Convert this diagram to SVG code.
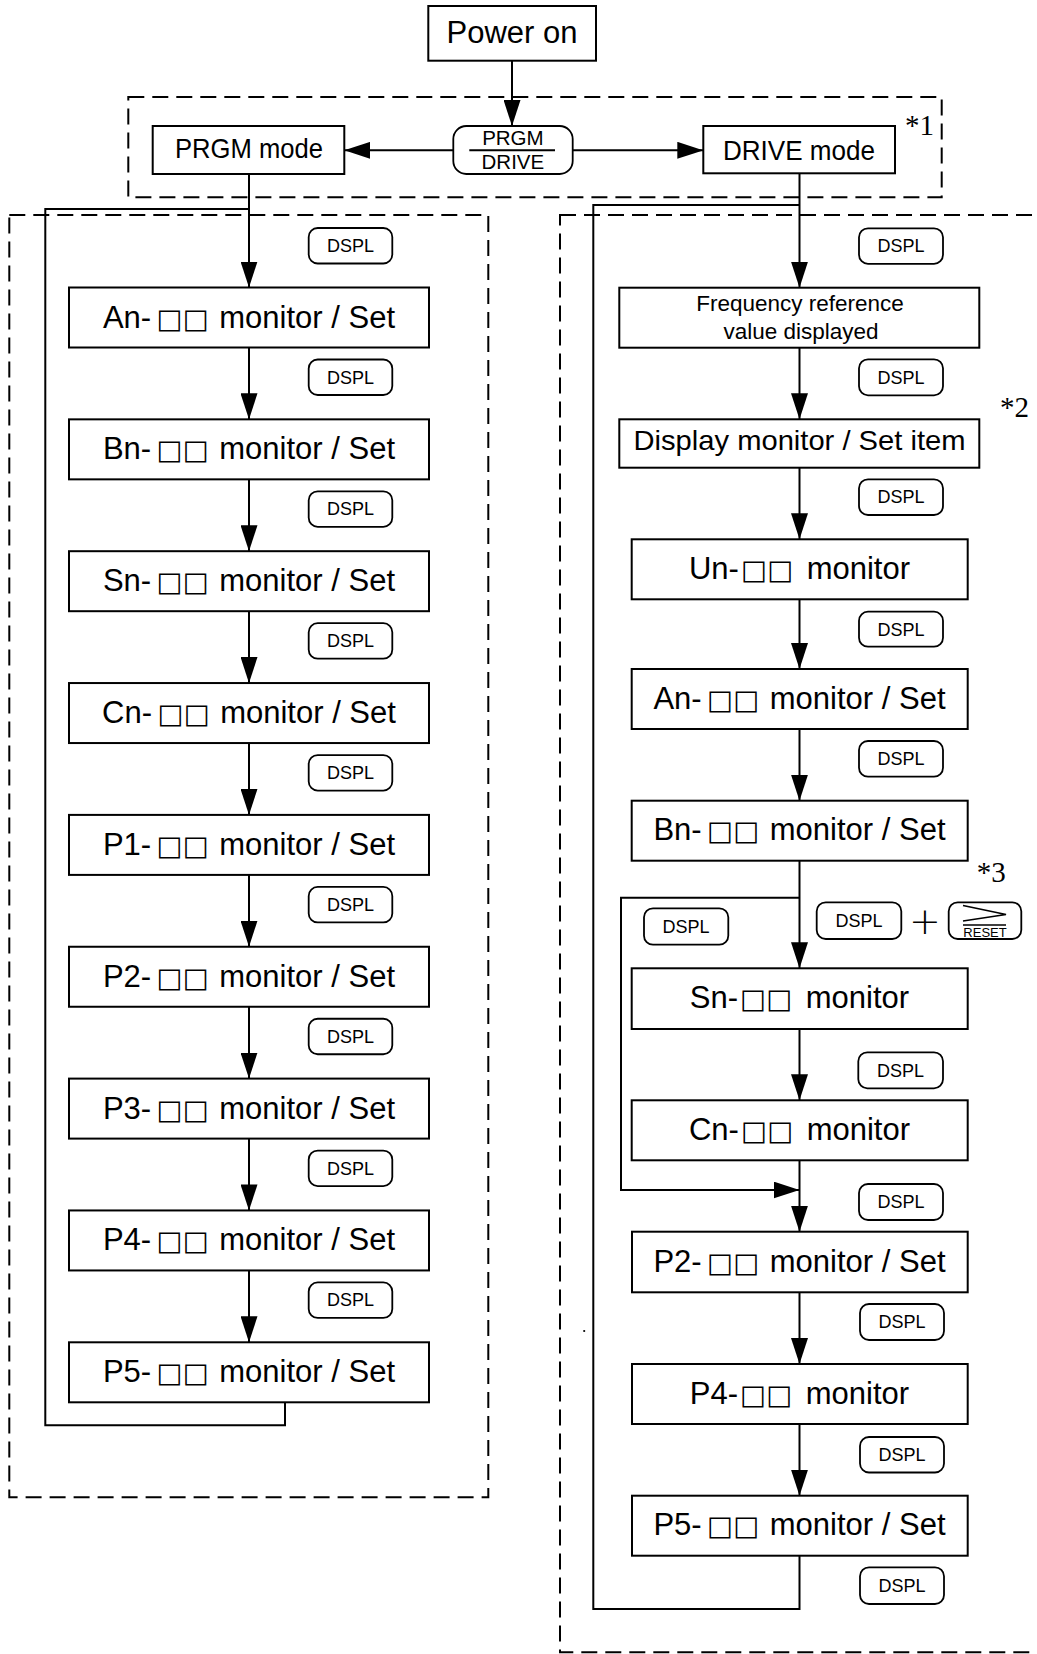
<svg xmlns="http://www.w3.org/2000/svg" width="1037" height="1654" viewBox="0 0 1037 1654">
<defs>
<style>
.box{fill:#fff;stroke:#000;stroke-width:2}
.btn{fill:#fff;stroke:#000;stroke-width:1.8}
.dash{fill:none;stroke:#000;stroke-width:2;stroke-dasharray:16 8}
.ln{fill:none;stroke:#000;stroke-width:2}
.t{font-family:"Liberation Sans",Arial,sans-serif;fill:#000;text-anchor:middle}
.lbl{font-size:31px}
.sq{font-family:"DejaVu Sans",sans-serif;font-size:27.3px}
.k{font-size:18px}
.note{font-family:"Liberation Serif","Times New Roman",serif;font-size:29px;fill:#000}
</style>
<marker id="arr" viewBox="0 0 26 17" refX="26" refY="8.5" markerWidth="26" markerHeight="17" markerUnits="userSpaceOnUse" orient="auto">
<path d="M0,0 L26,8.5 L0,17 z" fill="#000"/>
</marker>
</defs>
<rect width="1037" height="1654" fill="#fff"/>

<g id="frames">
<rect class="dash" x="128.3" y="97" width="813.4" height="100.3"/>
<rect class="dash" x="9.3" y="215" width="479" height="1282.3"/>
<rect class="dash" x="560" y="215" width="500" height="1437.3"/>
</g>

<g id="connectors">
<path class="ln" d="M512,60.7 V126" marker-end="url(#arr)"/>
<path class="ln" d="M453.3,150.3 H344.3" marker-end="url(#arr)"/>
<path class="ln" d="M572.7,150.3 H703.3" marker-end="url(#arr)"/>
<path class="ln" d="M249,174 V287.5" marker-end="url(#arr)"/>
<path class="ln" d="M249,347.5 V419.35" marker-end="url(#arr)"/>
<path class="ln" d="M249,479.35 V551.2" marker-end="url(#arr)"/>
<path class="ln" d="M249,611.2 V683.05" marker-end="url(#arr)"/>
<path class="ln" d="M249,743.05 V814.9" marker-end="url(#arr)"/>
<path class="ln" d="M249,874.9 V946.75" marker-end="url(#arr)"/>
<path class="ln" d="M249,1006.75 V1078.6" marker-end="url(#arr)"/>
<path class="ln" d="M249,1138.6 V1210.45" marker-end="url(#arr)"/>
<path class="ln" d="M249,1270.45 V1342.3" marker-end="url(#arr)"/>
<path class="ln" d="M285,1402.3 V1425.3 H45.3 V209 H249"/>
<path class="ln" d="M799.5,173.3 V287.7" marker-end="url(#arr)"/>
<path class="ln" d="M799.5,347.7 V419.3" marker-end="url(#arr)"/>
<path class="ln" d="M799.5,467.7 V539.3" marker-end="url(#arr)"/>
<path class="ln" d="M799.5,599.3 V669" marker-end="url(#arr)"/>
<path class="ln" d="M799.5,729 V800.7" marker-end="url(#arr)"/>
<path class="ln" d="M799.5,860.7 V968.3" marker-end="url(#arr)"/>
<path class="ln" d="M799.5,1029 V1100.3" marker-end="url(#arr)"/>
<path class="ln" d="M799.5,1160.3 V1231.7" marker-end="url(#arr)"/>
<path class="ln" d="M799.5,1292.3 V1364" marker-end="url(#arr)"/>
<path class="ln" d="M799.5,1424 V1495.7" marker-end="url(#arr)"/>
<path class="ln" d="M799.5,897.7 H621 V1190 H799.5" marker-end="url(#arr)"/>
<path class="ln" d="M799.5,1555.7 V1609 H593.3 V205 H799.5"/>
</g>

<g id="power-on">
<rect class="box" x="428.3" y="6" width="167.7" height="54.7"/>
<text class="t" x="512" y="42.7" font-size="31">Power on</text>
</g>

<g id="prgm-drive-key">
<rect class="btn" x="453.3" y="126" width="119.4" height="48" rx="13"/>
<text class="t" x="512.9" y="145" font-size="20.5">PRGM</text>
<line class="ln" x1="469.3" y1="150.3" x2="555" y2="150.3"/>
<text class="t" x="512.9" y="169" font-size="20.5">DRIVE</text>
</g>

<g id="prgm-mode">
<rect class="box" x="152.7" y="126" width="191.6" height="48"/>
<text class="t" x="249" y="158.3" font-size="28" textLength="148" lengthAdjust="spacingAndGlyphs">PRGM mode</text>
</g>

<g id="drive-mode">
<rect class="box" x="703.3" y="126" width="191.7" height="47.3"/>
<text class="t" x="799" y="160" font-size="28" textLength="152" lengthAdjust="spacingAndGlyphs">DRIVE mode</text>
</g>

<g id="notes">
<text class="note" x="905" y="135">*1</text>
<text class="note" x="1000" y="416.7">*2</text>
<text class="note" x="976.7" y="881.7">*3</text>
</g>

<g id="L-An"><rect class="box" x="69" y="287.5" width="360" height="60"/><text class="t lbl" x="249" y="327.5">An-<tspan class="sq" dx="5.4 0.4">□□</tspan><tspan dx="2.1"> monitor / Set</tspan></text></g>
<g id="L-Bn"><rect class="box" x="69" y="419.35" width="360" height="60"/><text class="t lbl" x="249" y="459.35">Bn-<tspan class="sq" dx="5.4 0.4">□□</tspan><tspan dx="2.1"> monitor / Set</tspan></text></g>
<g id="L-Sn"><rect class="box" x="69" y="551.2" width="360" height="60"/><text class="t lbl" x="249" y="591.2">Sn-<tspan class="sq" dx="5.4 0.4">□□</tspan><tspan dx="2.1"> monitor / Set</tspan></text></g>
<g id="L-Cn"><rect class="box" x="69" y="683.05" width="360" height="60"/><text class="t lbl" x="249" y="723.05">Cn-<tspan class="sq" dx="5.4 0.4">□□</tspan><tspan dx="2.1"> monitor / Set</tspan></text></g>
<g id="L-P1"><rect class="box" x="69" y="814.9" width="360" height="60"/><text class="t lbl" x="249" y="854.9">P1-<tspan class="sq" dx="5.4 0.4">□□</tspan><tspan dx="2.1"> monitor / Set</tspan></text></g>
<g id="L-P2"><rect class="box" x="69" y="946.75" width="360" height="60"/><text class="t lbl" x="249" y="986.75">P2-<tspan class="sq" dx="5.4 0.4">□□</tspan><tspan dx="2.1"> monitor / Set</tspan></text></g>
<g id="L-P3"><rect class="box" x="69" y="1078.6" width="360" height="60"/><text class="t lbl" x="249" y="1118.6">P3-<tspan class="sq" dx="5.4 0.4">□□</tspan><tspan dx="2.1"> monitor / Set</tspan></text></g>
<g id="L-P4"><rect class="box" x="69" y="1210.45" width="360" height="60"/><text class="t lbl" x="249" y="1250.45">P4-<tspan class="sq" dx="5.4 0.4">□□</tspan><tspan dx="2.1"> monitor / Set</tspan></text></g>
<g id="L-P5"><rect class="box" x="69" y="1342.3" width="360" height="60"/><text class="t lbl" x="249" y="1382.3">P5-<tspan class="sq" dx="5.4 0.4">□□</tspan><tspan dx="2.1"> monitor / Set</tspan></text></g>

<g id="L-keys">
<g><rect class="btn" x="308.7" y="228" width="83.6" height="35.5" rx="9"/><text class="t k" x="350.5" y="252">DSPL</text></g>
<g><rect class="btn" x="308.7" y="359.5" width="83.6" height="35.5" rx="9"/><text class="t k" x="350.5" y="383.5">DSPL</text></g>
<g><rect class="btn" x="308.7" y="491.35" width="83.6" height="35.5" rx="9"/><text class="t k" x="350.5" y="515.35">DSPL</text></g>
<g><rect class="btn" x="308.7" y="623.2" width="83.6" height="35.5" rx="9"/><text class="t k" x="350.5" y="647.2">DSPL</text></g>
<g><rect class="btn" x="308.7" y="755.05" width="83.6" height="35.5" rx="9"/><text class="t k" x="350.5" y="779.05">DSPL</text></g>
<g><rect class="btn" x="308.7" y="886.9" width="83.6" height="35.5" rx="9"/><text class="t k" x="350.5" y="910.9">DSPL</text></g>
<g><rect class="btn" x="308.7" y="1018.75" width="83.6" height="35.5" rx="9"/><text class="t k" x="350.5" y="1042.75">DSPL</text></g>
<g><rect class="btn" x="308.7" y="1150.6" width="83.6" height="35.5" rx="9"/><text class="t k" x="350.5" y="1174.6">DSPL</text></g>
<g><rect class="btn" x="308.7" y="1282.45" width="83.6" height="35.5" rx="9"/><text class="t k" x="350.5" y="1306.45">DSPL</text></g>
</g>

<g id="R-Freq"><rect class="box" x="619.3" y="287.7" width="360" height="60"/><text class="t" x="800" y="311" font-size="22.5">Frequency reference</text><text class="t" x="801" y="339" font-size="22.5">value displayed</text></g>
<g id="R-Display"><rect class="box" x="619.3" y="419.3" width="360" height="48.4"/><text class="t" x="799.5" y="450" font-size="28" textLength="332" lengthAdjust="spacingAndGlyphs">Display monitor / Set item</text></g>
<g id="R-Un"><rect class="box" x="631.7" y="539.3" width="336" height="60"/><text class="t lbl" x="799.5" y="578.8">Un-<tspan class="sq" dx="2 0.4">□□</tspan><tspan dx="5.1"> monitor</tspan></text></g>
<g id="R-An"><rect class="box" x="631.7" y="669" width="336" height="60"/><text class="t lbl" x="799.5" y="708.5">An-<tspan class="sq" dx="5.4 0.4">□□</tspan><tspan dx="2.1"> monitor / Set</tspan></text></g>
<g id="R-Bn"><rect class="box" x="631.7" y="800.7" width="336" height="60"/><text class="t lbl" x="799.5" y="840.2">Bn-<tspan class="sq" dx="5.4 0.4">□□</tspan><tspan dx="2.1"> monitor / Set</tspan></text></g>
<g id="R-Sn"><rect class="box" x="631.7" y="968.3" width="336" height="60.7"/><text class="t lbl" x="799.5" y="1008">Sn-<tspan class="sq" dx="2 0.4">□□</tspan><tspan dx="5.1"> monitor</tspan></text></g>
<g id="R-Cn"><rect class="box" x="631.7" y="1100.3" width="336" height="60"/><text class="t lbl" x="799.5" y="1139.8">Cn-<tspan class="sq" dx="2 0.4">□□</tspan><tspan dx="5.1"> monitor</tspan></text></g>
<g id="R-P2"><rect class="box" x="632" y="1231.7" width="335.7" height="60.6"/><text class="t lbl" x="799.5" y="1271.5">P2-<tspan class="sq" dx="5.4 0.4">□□</tspan><tspan dx="2.1"> monitor / Set</tspan></text></g>
<g id="R-P4"><rect class="box" x="632" y="1364" width="335.7" height="60"/><text class="t lbl" x="799.5" y="1403.5">P4-<tspan class="sq" dx="2 0.4">□□</tspan><tspan dx="5.1"> monitor</tspan></text></g>
<g id="R-P5"><rect class="box" x="632" y="1495.7" width="335.7" height="60"/><text class="t lbl" x="799.5" y="1535.2">P5-<tspan class="sq" dx="5.4 0.4">□□</tspan><tspan dx="2.1"> monitor / Set</tspan></text></g>

<g id="R-keys">
<g><rect class="btn" x="859" y="228.3" width="84" height="35.5" rx="9"/><text class="t k" x="901" y="252.3">DSPL</text></g>
<g><rect class="btn" x="859" y="359.3" width="84" height="36" rx="9"/><text class="t k" x="901" y="383.5">DSPL</text></g>
<g><rect class="btn" x="859" y="479.3" width="84" height="35.7" rx="9"/><text class="t k" x="901" y="503.3">DSPL</text></g>
<g><rect class="btn" x="859" y="611.7" width="84" height="35" rx="9"/><text class="t k" x="901" y="635.5">DSPL</text></g>
<g><rect class="btn" x="859" y="741" width="84" height="35.7" rx="9"/><text class="t k" x="901" y="765">DSPL</text></g>
<g><rect class="btn" x="644" y="908.3" width="84.3" height="36.4" rx="9"/><text class="t k" x="686" y="932.5">DSPL</text></g>
<g><rect class="btn" x="816.7" y="902.3" width="84.6" height="36.7" rx="9"/><text class="t k" x="859" y="926.5">DSPL</text></g>
<g><rect class="btn" x="858.3" y="1052.3" width="84.7" height="36" rx="9"/><text class="t k" x="900.6" y="1076.5">DSPL</text></g>
<g><rect class="btn" x="859" y="1184" width="84" height="36" rx="9"/><text class="t k" x="901" y="1208.2">DSPL</text></g>
<g><rect class="btn" x="860" y="1304" width="84" height="36" rx="9"/><text class="t k" x="902" y="1328.2">DSPL</text></g>
<g><rect class="btn" x="860" y="1437" width="84" height="35.5" rx="9"/><text class="t k" x="902" y="1461">DSPL</text></g>
<g><rect class="btn" x="860" y="1567.3" width="84" height="36.7" rx="9"/><text class="t k" x="902" y="1591.5">DSPL</text></g>
</g>

<g id="plus">
<text x="925" y="933.5" font-family="DejaVu Sans,sans-serif" font-weight="200" font-size="38" text-anchor="middle" fill="#000">+</text>
</g>

<g id="reset-key">
<rect class="btn" x="948.7" y="902.3" width="72.6" height="36.7" rx="9"/>
<polyline class="ln" style="stroke-width:1.6" points="963,905.5 1006,914.5 963,921"/>
<line class="ln" style="stroke-width:1.6" x1="963" y1="925" x2="1006" y2="925"/>
<text class="t" x="985" y="937.3" font-size="13">RESET</text>
</g>

<circle cx="584.2" cy="1331" r="1.1" fill="#000"/>
</svg>
